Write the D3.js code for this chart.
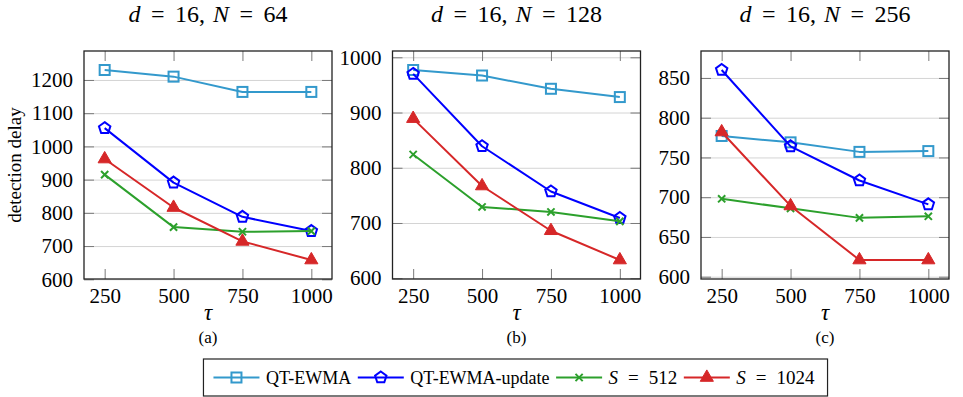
<!DOCTYPE html>
<html>
<head>
<meta charset="utf-8">
<script src="https://cdn.jsdelivr.net/npm/d3@7"></script>
<style>
  html, body { margin: 0; padding: 0; background: #fff; }
</style>
</head>
<body>
<svg id="chart" width="963" height="397"></svg>
<script>
// τ values on the x axis (shared by all panels)
const tau = [250, 500, 750, 1000];
const xTicks = [250, 500, 750, 1000];

// Panel parameters
const panelN = [64, 128, 256];
const panelTags = ["(a)", "(b)", "(c)"];

// Detection delay, one array per method and panel (N = 64, 128, 256)
const qtEwma64 = [1230, 1210, 1164, 1164];
const qtUpdate64 = [1055, 891, 788, 745];
const s512_64 = [915, 757, 743, 745];
const s1024_64 = [962, 816, 714, 658];

const qtEwma128 = [977, 967, 943, 928];
const qtUpdate128 = [970, 839, 757, 709];
const s512_128 = [824, 729, 720, 703];
const s1024_128 = [889, 767, 686, 633];

const qtEwma256 = [777, 769, 757, 758];
const qtUpdate256 = [860, 764, 721, 691];
const s512_256 = [698, 686, 674, 676];
const s1024_256 = [782, 689, 621, 621];

// y tick labels per panel
const yTicks64 = [600, 700, 800, 900, 1000, 1100, 1200];
const yTicks128 = [600, 700, 800, 900, 1000];
const yTicks256 = [600, 650, 700, 750, 800, 850];

const methods = [
  { name: "QT-EWMA", math: false, color: "#3399cc", mark: "square" },
  { name: "QT-EWMA-update", math: false, color: "#0000ff", mark: "pentagon" },
  { name: "512", math: true, color: "#2ca02c", mark: "cross" },
  { name: "1024", math: true, color: "#d62728", mark: "triangle" }
];

const panelData = [
  [qtEwma64, qtUpdate64, s512_64, s1024_64],
  [qtEwma128, qtUpdate128, s512_128, s1024_128],
  [qtEwma256, qtUpdate256, s512_256, s1024_256]
];
const panelYTicks = [yTicks64, yTicks128, yTicks256];

const FONT = '"Liberation Serif", "Times New Roman", serif';

// Layout
const svg = d3.select("#chart");
const plotTop = 51, plotBottom = 279;
const panelLeft = [84, 392.5, 701];
const panelWidth = 248;
const tickFont = 21;

function enlarge(ext, f) {
  const pad = (ext[1] - ext[0]) * f;
  return [ext[0] - pad, ext[1] + pad];
}

function drawMarker(g, type, cx, cy, color) {
  if (type === "square") {
    const s = 10;
    g.append("rect").attr("x", cx - s / 2).attr("y", cy - s / 2)
      .attr("width", s).attr("height", s)
      .attr("fill", "none").attr("stroke", color).attr("stroke-width", 2);
  } else if (type === "pentagon") {
    const r = 6;
    const pts = d3.range(5).map(k => {
      const a = -Math.PI / 2 + k * 2 * Math.PI / 5;
      return [cx + r * Math.cos(a), cy + r * Math.sin(a)];
    });
    g.append("path").attr("d", d3.line()(pts) + "Z")
      .attr("fill", "none").attr("stroke", color).attr("stroke-width", 2);
  } else if (type === "cross") {
    const r = 3.6;
    g.append("path")
      .attr("d", `M${cx - r},${cy - r}L${cx + r},${cy + r}M${cx - r},${cy + r}L${cx + r},${cy - r}`)
      .attr("fill", "none").attr("stroke", color).attr("stroke-width", 2);
  } else if (type === "triangle") {
    const r = 7.6;
    const pts = d3.range(3).map(k => {
      const a = -Math.PI / 2 + k * 2 * Math.PI / 3;
      return [cx + r * Math.cos(a), cy + r * Math.sin(a)];
    });
    g.append("path").attr("d", d3.line()(pts) + "Z")
      .attr("fill", color).attr("stroke", color).attr("stroke-width", 1);
  }
}

function styleAxis(g) {
  g.select(".domain").remove();
  g.attr("font-family", null).attr("font-size", null);
  g.selectAll(".tick line").attr("stroke", "#7a7a7a").attr("stroke-width", 1);
  g.selectAll("text")
    .style("font-family", FONT).style("font-size", tickFont + "px").attr("fill", "#000");
}

// math-style label: parts are [text, italic, dx]
function mathText(sel, parts) {
  parts.forEach(([txt, it, dx]) => {
    const ts = sel.append("tspan").text(txt);
    if (it) ts.style("font-style", "italic");
    if (dx) ts.attr("dx", dx);
  });
}

panelData.forEach((series, i) => {
  const left = panelLeft[i], right = left + panelWidth;
  const x = d3.scaleLinear().domain(enlarge(d3.extent(tau), 0.1)).range([left, right]);
  const all = series.flat();
  const y = d3.scaleLinear().domain(enlarge(d3.extent(all), 0.1)).range([plotBottom, plotTop]);
  const yt = panelYTicks[i];
  const g = svg.append("g");

  // horizontal grid
  const grid = g.append("g").attr("transform", `translate(${left},0)`)
    .call(d3.axisLeft(y).tickValues(yt).tickSize(-(right - left)).tickFormat(""));
  grid.select(".domain").remove();
  grid.selectAll(".tick line").attr("stroke", "#d4d4d4").attr("stroke-width", 1);

  // inward ticks on all four sides
  const gl = g.append("g").attr("transform", `translate(${left},0)`)
    .call(d3.axisLeft(y).tickValues(yt).tickSize(-10).tickPadding(11).tickFormat(d3.format("d")));
  styleAxis(gl);
  const gr = g.append("g").attr("transform", `translate(${right},0)`)
    .call(d3.axisRight(y).tickValues(yt).tickSize(-10).tickFormat(""));
  styleAxis(gr);
  const gb = g.append("g").attr("transform", `translate(0,${plotBottom})`)
    .call(d3.axisBottom(x).tickValues(xTicks).tickSize(-10).tickPadding(9).tickFormat(d3.format("d")));
  styleAxis(gb);
  const gt = g.append("g").attr("transform", `translate(0,${plotTop})`)
    .call(d3.axisTop(x).tickValues(xTicks).tickSize(-10).tickFormat(""));
  styleAxis(gt);

  // frame
  g.append("rect").attr("x", left).attr("y", plotTop)
    .attr("width", right - left).attr("height", plotBottom - plotTop)
    .attr("fill", "none").attr("stroke", "#222").attr("stroke-width", 1.3);

  // series: line then markers
  series.forEach((vals, s) => {
    const m = methods[s];
    const pts = vals.map((v, k) => [x(tau[k]), y(v)]);
    g.append("path").attr("d", d3.line()(pts))
      .attr("fill", "none").attr("stroke", m.color).attr("stroke-width", 2)
      .attr("stroke-linejoin", "round");
    pts.forEach(p => drawMarker(g, m.mark, p[0], p[1], m.color));
  });

  // title
  const cx = (left + right) / 2;
  const t = svg.append("text").attr("x", cx).attr("y", 22)
    .attr("text-anchor", "middle")
    .style("font-family", FONT).style("font-size", "24px");
  mathText(t, [["d", true, 0], ["=", false, 10.5], ["16,", false, 10.5],
               ["N", true, 8], ["=", false, 10.5], [String(panelN[i]), false, 10.5]]);

  // x label and panel tag
  svg.append("text").attr("x", cx).attr("y", 320).attr("text-anchor", "middle")
    .style("font-family", FONT).style("font-size", "23px").style("font-style", "italic").text("τ");
  svg.append("text").attr("x", cx).attr("y", 343).attr("text-anchor", "middle")
    .style("font-family", FONT).style("font-size", "17px").text(panelTags[i]);
});

// y axis title
svg.append("text")
  .attr("transform", `translate(21,${(plotTop + plotBottom) / 2}) rotate(-90)`)
  .attr("text-anchor", "middle")
  .style("font-family", FONT).style("font-size", "19px").text("detection delay");

// legend
const legend = svg.append("g");
const lineLen = 46, gap = 6.5, legY = 377.5;
let cur = 0;
methods.forEach((m, k) => {
  legend.append("line").attr("x1", cur).attr("x2", cur + lineLen)
    .attr("y1", legY).attr("y2", legY)
    .attr("stroke", m.color).attr("stroke-width", 2);
  drawMarker(legend, m.mark, cur + lineLen / 2, legY, m.color);
  cur += lineLen + gap;
  const t = legend.append("text").attr("x", cur).attr("y", legY).attr("dy", "0.35em")
    .style("font-family", FONT);
  if (m.math) {
    t.style("font-size", "19px");
    mathText(t, [["S", true, 0], ["=", false, 10], [m.name, false, 10]]);
  } else {
    t.style("font-size", "18px").text(m.name);
  }
  cur += t.node().getComputedTextLength() + (m.math ? 20 : 0);
  if (k < methods.length - 1) cur += gap;
});
const padL = 10, padR = 13;
const boxW = padL + cur + padR;
const boxX = 515.5 - boxW / 2;
legend.insert("rect", ":first-child")
  .attr("x", -padL).attr("y", 359).attr("width", boxW).attr("height", 37)
  .attr("fill", "#fff").attr("stroke", "#222").attr("stroke-width", 1.2);
legend.attr("transform", `translate(${boxX + padL},0)`);
</script>
</body>
</html>
